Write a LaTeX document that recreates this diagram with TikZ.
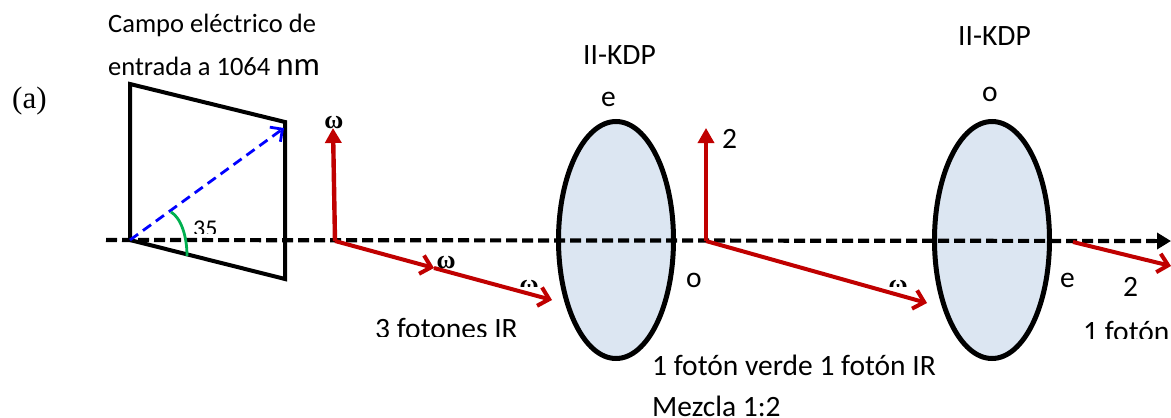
\documentclass[tikz,border=0pt]{standalone}
\usepackage{fontspec}
\setmainfont{Carlito}
\newfontfamily\serifface{Liberation Serif}
\usetikzlibrary{arrows.meta,shapes.geometric}
\definecolor{redline}{RGB}{192,0,0}
\definecolor{greenarc}{RGB}{0,176,80}
\definecolor{lensfill}{RGB}{220,230,242}
\tikzset{
  x=1pt,y=-1pt,
  label text/.style={inner sep=0pt,anchor=base west,font=\fontsize{29.5}{32}\selectfont},
  small text/.style={inner sep=0pt,anchor=base west,font=\fontsize{26.5}{30}\selectfont},
  omega text/.style={inner sep=0pt,anchor=center,font=\fontsize{26}{30}\selectfont\serifface\bfseries},
  lens/.style={ellipse,draw=black,fill=lensfill,line width=5pt,inner sep=0pt,minimum width=115pt,minimum height=237pt},
  frame line/.style={draw=black,line width=4pt,line join=miter},
  axis/.style={draw=black,line width=4.2pt,dash pattern=on 11pt off 5pt},
  red open/.style={draw=redline,line width=4pt,-{Straight Barb[length=10pt,width=19pt,line width=4pt]}},
  red solid/.style={draw=redline,line width=4.4pt,-{Triangle[length=15pt,width=16pt]}},
  blue vector/.style={draw=blue,line width=2.8pt,dash pattern=on 10pt off 6pt,-{Straight Barb[length=9pt,width=18pt,line width=2.8pt]}},
  axis tip/.style={draw=black,line width=4.2pt,-{Triangle[length=14pt,width=16pt]}}
}
\begin{document}
\begin{tikzpicture}
\useasboundingbox (0,0) rectangle (1171,418);
\fill[white] (0,0) rectangle (1171,418);
% lenses
\node[lens] (lensA) at (616,240) {};
\node[lens] (lensB) at (992,240) {};
% frame
\coordinate (q1) at (130,84);
\coordinate (q2) at (285,122);
\coordinate (q3) at (285,279);
\coordinate (q4) at (130,240);
\draw[frame line] (q1) -- (q2) -- (q3) -- (q4) -- cycle;
% axis
\coordinate (axL) at (106,240);
\coordinate (axM) at (1155,241);
\coordinate (axR) at (1171,241);
\draw[axis] (axL) -- (axM);
\draw[axis tip] (axM) -- (axR);
% blue vector and green angle
\coordinate (bv) at (284,128);
\draw[blue vector] (q4) -- (bv);
\coordinate (ga) at (171,212);
\coordinate (gb) at (187,256);
\draw[draw=greenarc,line width=2.8pt] (ga) .. controls (181,218) and (187,236) .. (gb);
% red vectors, first group
\coordinate (r1) at (335,241);
\coordinate (r1up) at (333,128);
\coordinate (r1m) at (434,268);
\coordinate (r1e) at (552,300);
\draw[red solid] (r1) -- (r1up);
\draw[red open] (r1) -- (r1m);
\draw[red open] (r1m) -- (r1e);
% red vectors, second group
\coordinate (r2) at (706,241);
\coordinate (r2up) at (706,128);
\coordinate (r2e) at (927,303);
\draw[red solid,line width=3.4pt] (r2) -- (r2up);
\draw[red open] (r2) -- (r2e);
% red vector, third
\coordinate (r3) at (1073,242);
\coordinate (r3e) at (1171,266);
\draw[red open] (r3) -- (r3e);
% labels
\node[small text] (t1) at (108,32) {Campo eléctrico de};
\node[small text] (t2) at (108,75) {entrada a 1064 \fontsize{33}{34}\selectfont nm};
\node[inner sep=0pt,anchor=base west,font=\fontsize{31}{34}\selectfont\serifface] (ta) at (12,108) {(a)};
\node[label text] (k1) at (583,64) {II-KDP};
\node[label text] (k2) at (958,45) {II-KDP};
\node[label text] (e1) at (601,106) {e};
\node[label text] (o2) at (982,101) {o};
\node[label text] (d1) at (722,148) {2};
\node[label text] (o1) at (686,287) {o};
\node[label text] (e2) at (1060,287) {e};
\node[label text] (d2) at (1123,296) {2};
\node[label text] (m1) at (652,375) {1 fotón verde 1 fotón IR};
\node[label text] (m2) at (652,416) {Mezcla 1:2};
\node[omega text] (w1) at (334,123) {ω};
\node[omega text] (w2) at (446,263) {ω};
% labels cut off at the bottom, as in the picture
\begin{scope}
\clip (185,215) rectangle (225,233);
\node[inner sep=0pt,anchor=base west,font=\fontsize{24}{26}\selectfont] (a35) at (193,236) {35};
\end{scope}
\begin{scope}
\clip (510,270) rectangle (545,286);
\node[omega text] (w3) at (529,287) {ω};
\end{scope}
\begin{scope}
\clip (880,270) rectangle (915,286);
\node[omega text] (w4) at (898,287) {ω};
\end{scope}
\begin{scope}
\clip (370,310) rectangle (525,336);
\node[label text] (t3) at (375,338) {3 fotones IR};
\end{scope}
\begin{scope}
\clip (1078,310) rectangle (1171,338);
\node[label text] (t4) at (1083,341) {1 fotón};
\end{scope}
\end{tikzpicture}
\end{document}
